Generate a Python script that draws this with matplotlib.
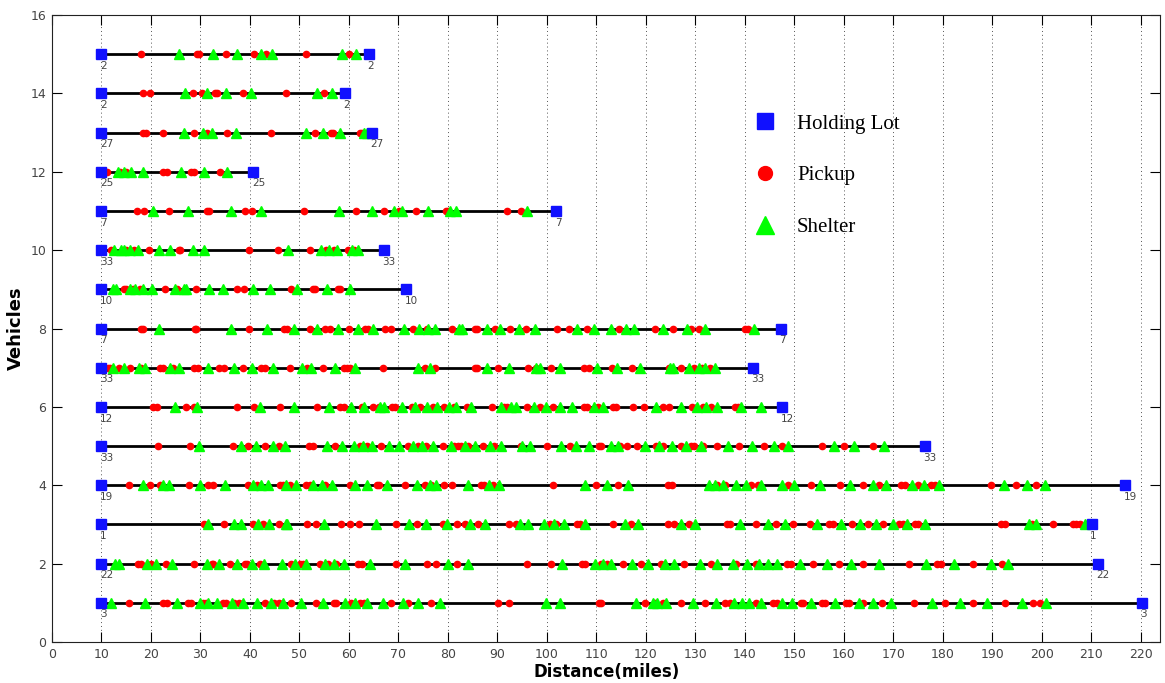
import matplotlib
matplotlib.use('Agg')
import matplotlib.pyplot as plt
from matplotlib.lines import Line2D

# vehicle rows, bottom to top
vehicles = list(range(1, 16))
depot_ids = [3, 22, 1, 19, 33, 12, 33, 7, 10, 33, 7, 25, 27, 2, 2]
route_start = [10] * 15
route_end = [220.3, 211.4, 210.1, 216.9, 176.4, 147.5, 141.7, 147.3, 71.6, 67.1, 101.9, 40.7, 64.6, 59.2, 64.1]

pickup_miles = [
    # 1
    [15.5, 22.5, 23.2, 27.4, 28.0, 30.5, 31.1, 34.5, 35.1, 36.7, 37.9, 43.0, 44.9, 45.9, 48.4, 53.3, 56.9, 57.4,
     60.4, 62.2, 63.1, 68.5, 72.0, 76.7, 90.1, 92.3, 110.6, 111.0, 119.9, 121.8, 123.4, 127.1, 131.9, 136.0, 137.0,
     142.3, 145.8, 146.5, 151.3, 151.8, 155.7, 156.3, 160.5, 161.0, 164.0, 167.7, 174.2, 180.5, 186.1, 192.7, 198.3, 199.6],
    # 2
    [10.1, 17.4, 17.9, 20.0, 23.0, 28.8, 32.3, 32.6, 36.0, 39.0, 39.5, 42.0, 48.3, 50.2, 50.7, 54.1, 55.8, 57.5,
     61.9, 62.6, 69.5, 75.7, 77.7, 81.9, 96.1, 100.8, 107.2, 107.8, 111.0, 112.2, 115.4, 119.1, 123.0, 127.8, 133.2,
     138.2, 142.3, 148.6, 149.3, 153.9, 159.0, 164.0, 173.2, 178.8, 179.7, 186.2, 191.9],
    # 3
    [30.7, 34.8, 40.6, 42.7, 45.9, 51.5, 53.3, 58.5, 60.2, 62.1, 69.6, 73.7, 79.0, 81.9, 83.4, 86.1, 92.3, 93.8,
     100.6, 101.9, 106.2, 106.7, 113.3, 117.1, 124.4, 125.8, 128.8, 136.5, 137.0, 142.3, 146.3, 149.7, 153.2, 157.1,
     157.8, 161.7, 165.0, 168.0, 171.2, 171.9, 174.4, 175.0, 191.8, 192.7, 198.1, 202.3, 206.3, 207.0, 207.7],
    # 4
    [15.5, 19.8, 21.9, 27.6, 31.6, 32.6, 39.7, 41.4, 46.0, 46.7, 48.1, 51.4, 52.1, 55.2, 60.2, 65.6, 66.1, 71.3,
     75.3, 76.7, 79.2, 80.9, 86.8, 87.3, 89.1, 101.2, 110.0, 114.4, 124.4, 125.4, 134.5, 136.0, 141.3, 142.6, 148.7,
     153.5, 159.2, 163.9, 167.2, 171.6, 172.4, 175.1, 177.7, 178.4, 189.7, 194.9, 198.8],
    # 5
    [21.5, 27.8, 36.5, 39.7, 43.0, 45.9, 52.0, 52.7, 57.2, 62.2, 63.6, 66.4, 72.0, 74.0, 75.5, 79.0, 81.2, 82.0,
     82.6, 84.1, 87.1, 89.3, 94.7, 100.1, 104.6, 110.6, 111.0, 114.7, 116.2, 118.3, 122.1, 123.4, 127.1, 129.1, 129.8,
     131.5, 134.4, 138.9, 143.8, 147.6, 155.7, 160.0, 166.0],
    # 6
    [20.5, 21.2, 27.0, 28.8, 37.3, 40.9, 46.1, 53.5, 58.3, 59.0, 62.6, 64.8, 66.0, 68.7, 69.4, 72.7, 74.3, 77.0,
     79.2, 81.2, 83.8, 88.9, 91.3, 92.0, 96.1, 98.7, 101.2, 107.6, 108.1, 110.3, 113.4, 114.0, 117.4, 119.7, 123.4,
     124.8, 129.3, 131.5, 133.2, 138.1, 138.6],
    # 7
    [11.4, 11.8, 13.6, 15.8, 18.0, 21.8, 22.5, 24.5, 28.8, 29.5, 33.8, 34.7, 38.7, 42.3, 43.0, 48.1, 51.5, 54.8,
     59.0, 59.7, 60.3, 66.9, 75.3, 77.4, 85.4, 86.0, 90.1, 96.2, 97.9, 100.9, 107.6, 108.6, 113.1, 117.2, 124.8,
     127.1, 129.8, 131.3, 132.9],
    # 8
    [18.0, 18.4, 28.9, 29.2, 39.9, 46.9, 47.5, 52.1, 55.2, 56.2, 60.1, 63.2, 63.9, 67.3, 68.6, 73.0, 75.7, 80.9,
     85.4, 86.0, 89.5, 92.5, 95.9, 102.1, 104.5, 108.2, 114.5, 121.9, 125.5, 129.2, 130.8, 140.1, 140.7],
    # 9
    [10.1, 14.6, 15.0, 16.3, 17.7, 22.9, 25.3, 29.1, 37.3, 38.8, 48.4, 52.8, 53.1, 57.8, 58.3],
    # 10
    [10.2, 11.9, 15.0, 16.5, 19.6, 25.6, 25.9, 39.8, 45.6, 52.1, 55.3, 56.9, 59.8, 61.0],
    # 11
    [17.1, 18.7, 23.7, 31.4, 31.7, 39.1, 40.4, 50.9, 61.5, 67.1, 70.2, 73.5, 79.6, 80.1, 91.9, 94.7],
    # 12
    [11.1, 13.8, 15.0, 22.5, 23.2, 28.2, 28.7, 34.0],
    # 13
    [18.5, 19.0, 22.4, 28.7, 31.4, 35.3, 44.2, 53.1, 56.4, 56.8, 62.2, 62.6],
    # 14
    [18.5, 19.8, 28.6, 30.3, 33.0, 33.3, 38.7, 47.3, 55.0],
    # 15
    [18.0, 29.3, 29.7, 35.1, 40.8, 43.2, 51.3, 60.1],
]

shelter_miles = [
    # 1
    [11.9, 18.8, 25.2, 29.9, 31.5, 33.3, 36.4, 38.7, 41.5, 44.3, 46.6, 50.4, 54.8, 59.2, 61.2, 63.6, 66.9, 71.0,
     74.0, 78.4, 99.9, 102.6, 118.1, 121.4, 122.3, 124.0, 129.5, 134.3, 137.9, 139.4, 140.9, 143.3, 147.5, 149.5,
     153.5, 158.2, 163.0, 166.0, 169.5, 177.8, 183.5, 188.9, 196.1, 200.8],
    # 2
    [12.8, 13.6, 19.2, 21.1, 24.2, 31.3, 33.8, 37.3, 40.4, 42.9, 46.4, 49.1, 51.3, 55.2, 57.0, 59.0, 64.2, 71.3,
     80.0, 84.0, 103.1, 109.8, 111.3, 113.0, 117.3, 120.4, 123.9, 125.8, 130.9, 134.5, 137.6, 140.4, 142.9, 144.8,
     146.6, 151.2, 156.7, 161.4, 167.2, 176.6, 182.2, 189.8, 193.2],
    # 3
    [31.6, 36.7, 38.3, 41.7, 43.9, 47.2, 47.6, 55.0, 65.4, 72.2, 75.5, 79.8, 84.4, 87.6, 94.5, 96.3, 99.5, 101.4,
     103.5, 107.8, 115.8, 118.4, 127.1, 130.0, 139.0, 144.8, 148.2, 154.7, 159.4, 163.3, 166.5, 169.9, 172.9, 176.5,
     197.4, 198.9, 208.7],
    # 4
    [18.4, 22.4, 23.7, 30.0, 35.0, 40.7, 42.2, 43.7, 47.3, 49.4, 52.8, 54.5, 56.5, 61.2, 63.6, 67.8, 73.7, 76.3,
     77.7, 84.0, 88.3, 90.3, 107.8, 112.2, 116.5, 132.7, 133.9, 135.6, 138.2, 140.2, 143.3, 147.5, 150.0, 155.3,
     161.3, 166.0, 168.5, 173.8, 176.2, 179.3, 192.5, 197.1, 200.6],
    # 5
    [29.8, 38.2, 41.2, 44.7, 47.1, 55.5, 58.6, 61.0, 62.9, 64.6, 68.1, 70.2, 73.0, 74.8, 77.0, 80.7, 83.4, 85.4,
     88.5, 90.8, 94.9, 96.7, 102.9, 106.0, 108.6, 113.0, 114.4, 119.8, 122.6, 125.4, 128.2, 131.2, 136.7, 141.5,
     146.0, 148.7, 158.1, 162.0, 168.2],
    # 6
    [24.9, 29.4, 42.0, 49.0, 56.0, 60.5, 63.0, 66.3, 67.1, 70.8, 73.3, 75.7, 77.8, 80.2, 81.7, 84.6, 90.8, 92.7,
     93.8, 97.5, 99.9, 102.6, 105.1, 109.5, 111.3, 122.1, 127.1, 130.3, 132.2, 134.4, 139.2, 143.3],
    # 7
    [12.3, 14.5, 17.5, 18.8, 23.9, 25.6, 31.6, 36.8, 40.4, 44.6, 50.6, 52.3, 57.3, 61.2, 74.0, 76.5, 88.0, 92.3,
     97.9, 98.7, 102.6, 110.2, 114.1, 118.9, 125.0, 125.6, 128.8, 130.7, 131.9, 134.0],
    # 8
    [21.7, 36.2, 43.5, 48.9, 53.5, 57.8, 61.9, 64.8, 71.1, 74.2, 76.0, 77.4, 82.3, 82.9, 88.0, 90.6, 94.3, 97.7,
     106.2, 109.6, 112.9, 116.0, 117.7, 123.4, 128.4, 132.0, 141.8],
    # 9
    [12.3, 13.0, 15.8, 16.8, 18.4, 20.2, 24.9, 26.6, 27.0, 31.8, 34.5, 40.6, 44.1, 49.6, 55.5, 60.3],
    # 10
    [12.6, 14.0, 14.6, 15.8, 17.4, 21.7, 23.9, 28.5, 30.7, 47.8, 54.3, 56.0, 57.6, 60.7, 61.9],
    # 11
    [20.4, 27.4, 36.2, 42.2, 58.1, 64.7, 69.1, 70.8, 76.0, 80.4, 81.7, 96.0],
    # 12
    [13.4, 14.6, 15.9, 18.4, 26.0, 30.7, 35.3],
    # 13
    [26.7, 30.6, 32.4, 37.1, 51.3, 54.8, 58.3, 63.0, 63.6],
    # 14
    [26.9, 31.4, 35.1, 40.2, 53.6, 56.6],
    # 15
    [25.7, 32.6, 37.3, 42.2, 44.4, 58.6, 61.5],
]

blue = '#1010ff'
red = '#ff0000'
green = '#00ff00'

fig = plt.figure(figsize=(11.65, 6.83), dpi=100)
ax = fig.add_axes([0.0446, 0.06, 0.9514, 0.918])

for i, v in enumerate(vehicles):
    ax.plot([route_start[i], route_end[i]], [v, v], color='black', lw=2, zorder=2)
    ax.plot(pickup_miles[i], [v] * len(pickup_miles[i]), 'o', color=red, mec=red, ms=4.5, zorder=3)
    ax.plot(shelter_miles[i], [v] * len(shelter_miles[i]), '^', color=green, mec=green, ms=7.5, zorder=3)
    ax.plot([route_start[i], route_end[i]], [v, v], 's', color=blue, mec=blue, ms=7.5, lw=0, zorder=4)
    for xx in (route_start[i], route_end[i]):
        ax.text(xx - 0.3, v - 0.17, str(depot_ids[i]), fontsize=7.5, color='#444444', ha='left', va='top')

ax.set_xlim(0, 224)
ax.set_ylim(0, 16)
ax.set_xticks(range(0, 221, 10))
ax.set_yticks(range(0, 17, 2))
ax.tick_params(direction='in', length=7, width=0.8, labelsize=9, labelcolor='#444444',
               top=True, right=True, pad=4)
ax.xaxis.grid(True, linestyle=(0, (1, 3)), color='#555555', lw=0.7)
ax.set_axisbelow(True)
for s in ax.spines.values():
    s.set_color('#222222')
    s.set_linewidth(0.8)

ax.set_xlabel('Distance(miles)', fontsize=12, fontweight='bold', labelpad=2)
ax.set_ylabel('Vehicles', fontsize=13, fontweight='bold', labelpad=4)

handles = [
    Line2D([], [], ls='none', marker='s', color=blue, mec=blue, ms=11),
    Line2D([], [], ls='none', marker='o', color=red, mec=red, ms=10),
    Line2D([], [], ls='none', marker='^', color=green, mec=green, ms=13),
]
ax.legend(handles, ['Holding Lot', 'Pickup', 'Shelter'], frameon=False,
          prop={'family': 'Liberation Serif', 'size': 15},
          loc='upper left', bbox_to_anchor=(0.612, 0.872), labelspacing=1.55,
          handletextpad=0.8, handlelength=1.5)

fig.savefig('out.png', dpi=100)
